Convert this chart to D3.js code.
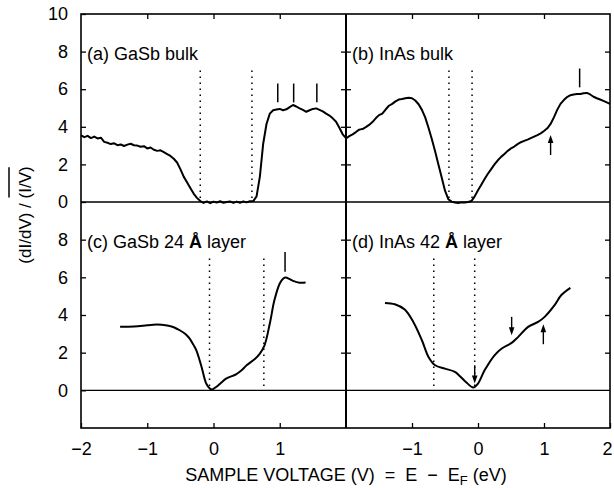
<!DOCTYPE html>
<html>
<head>
<meta charset="utf-8">
<script src="https://cdn.jsdelivr.net/npm/d3@7/dist/d3.min.js"></script>
<style>
  body { margin: 0; background: #fff; }
  svg text { font-family: "Liberation Sans", Arial, sans-serif; fill: #000; }
</style>
</head>
<body>
<div id="chart"></div>
<script>
// 电压 (V) 与 (dI/dV)/(I/V) 数据
const voltA = [-2.00,-1.95,-1.90,-1.85,-1.80,-1.75,-1.70,-1.65,-1.60,-1.55,-1.50,-1.45,-1.40,-1.35,-1.30,-1.25,-1.20,-1.15,-1.10,-1.05,
  -1.00,-0.95,-0.90,-0.85,-0.80,-0.75,-0.70,-0.65,-0.60,-0.55,-0.50,-0.45,-0.40,-0.35,-0.30,-0.25,-0.20,-0.15,-0.10,-0.05,
  0.00,0.05,0.10,0.15,0.20,0.25,0.30,0.35,0.40,0.45,0.50,0.55,0.60,0.65,0.70,0.75,0.80,0.85,0.90,0.95,
  1.00,1.05,1.10,1.15,1.20,1.25,1.30,1.35,1.40,1.45,1.50,1.55,1.60,1.65,1.70,1.75,1.80,1.85,1.90,1.95,2.00];
const valA = [3.55,3.45,3.52,3.40,3.48,3.38,3.42,3.20,3.15,3.08,3.12,3.02,3.06,2.98,3.05,3.10,3.02,3.00,2.94,2.97,
  2.85,2.90,2.78,2.72,2.75,2.65,2.55,2.45,2.30,2.10,1.75,1.35,1.05,0.75,0.45,0.22,0.05,-0.05,0.03,-0.06,
  0.02,-0.03,0.04,-0.04,0.00,0.03,-0.05,0.02,-0.04,0.03,-0.02,0.04,0.05,0.30,1.35,3.10,4.15,4.70,4.88,4.92,
  4.95,4.88,4.93,5.05,5.16,5.08,4.98,4.90,4.80,4.88,4.95,4.98,4.90,4.82,4.70,4.60,4.45,4.27,3.95,3.60,3.40];

const voltB = voltA;
const valB = [3.38,3.50,3.60,3.72,3.85,3.88,3.98,4.10,4.25,4.45,4.62,4.70,4.92,5.12,5.22,5.35,5.45,5.48,5.52,5.55,
  5.52,5.40,5.20,4.90,4.50,3.95,3.35,2.70,2.00,1.30,0.60,0.15,0.02,-0.03,-0.05,-0.02,-0.03,0.00,0.05,0.30,
  0.62,0.92,1.22,1.50,1.75,2.00,2.22,2.40,2.55,2.72,2.85,2.95,3.08,3.18,3.25,3.32,3.40,3.48,3.56,3.65,
  3.78,3.92,4.15,4.50,4.90,5.22,5.42,5.58,5.68,5.72,5.75,5.74,5.78,5.80,5.72,5.60,5.52,5.45,5.38,5.30,5.22];

const voltC = [-1.41,-1.20,-1.00,-0.86,-0.70,-0.60,-0.51,-0.42,-0.36,-0.30,-0.26,-0.18,-0.11,-0.05,-0.02,0.04,0.12,0.19,0.34,0.42,
  0.50,0.62,0.70,0.77,0.85,0.92,1.00,1.05,1.09,1.15,1.20,1.30,1.39];
const valC = [3.37,3.39,3.45,3.49,3.44,3.35,3.19,2.98,2.75,2.40,2.13,1.24,0.36,0.08,0.05,0.18,0.42,0.62,0.85,1.05,
  1.33,1.65,1.95,2.39,3.55,4.79,5.67,5.93,5.99,5.90,5.81,5.71,5.73];

const voltD = [-1.41,-1.26,-1.11,-0.98,-0.85,-0.75,-0.65,-0.50,-0.35,-0.20,-0.07,0.00,0.10,0.25,0.36,0.51,0.61,0.76,0.91,1.01,1.16,1.26,1.40];
const valD = [4.64,4.57,4.29,3.63,2.66,1.77,1.33,1.15,0.98,0.50,0.15,0.36,1.06,1.86,2.22,2.52,2.84,3.37,3.63,3.90,4.52,5.05,5.44];

// 虚线位置、竖线标记、箭头
const dottedA = [-0.20, 0.58];
const dottedB = [-0.44, -0.09];
const dottedC = [-0.06, 0.76];
const dottedD = [-0.67, -0.05];
const barsA = [0.97, 1.21, 1.56];
const barsB = [1.54];
const barsC = [1.08];
// [电压, 起点值, 终点值(箭头)]
const arrowsB = [[1.10, 2.50, 3.56]];
const arrowsD = [[0.51, 3.90, 2.93], [0.99, 2.45, 3.51], [-0.05, 1.33, 0.36]];

const labelA = "(a) GaSb bulk";
const labelB = "(b) InAs bulk";
const labelC = ["(c) GaSb 24 ", "Å", " layer"];
const labelD = ["(d) InAs 42 ", "Å", " layer"];

const yTicksTop = [0, 2, 4, 6, 8, 10];
const yTicksBottom = [0, 2, 4, 6, 8];
const xInnerTicks = [-1, 0, 1];
const xLabelsLeft = [-2, -1, 0, 1];
const xLabelsRight = [-1, 0, 1, 2];

const W = 614, H = 488;
const L = 81, M = 346, R = 610, T = 14, MID = 202, B = 428;
const FS = 18;

const svg = d3.select('#chart').append('svg')
  .attr('width', W).attr('height', H);

const xLeft = d3.scaleLinear().domain([-2, 2]).range([L, M]);
const xRight = d3.scaleLinear().domain([-2, 2]).range([M, R]);
const yTop = d3.scaleLinear().domain([0, 10]).range([MID, T]);
const yBot = d3.scaleLinear().domain([-2, 10]).range([B, MID]);
const fmt = d3.format('d');

function styleAxis(g, showText) {
  g.select('.domain').remove();
  g.selectAll('.tick line').attr('stroke', '#000').attr('stroke-width', 1.3);
  g.selectAll('.tick text').attr('font-size', FS).attr('font-family', '"Liberation Sans", Arial, sans-serif')
    .attr('fill', '#000').style('display', showText ? null : 'none');
}

// 左轴
svg.append('g').attr('transform', `translate(${L},0)`)
  .call(d3.axisLeft(yTop).tickValues(yTicksTop).tickFormat(fmt).tickSizeInner(-5).tickSizeOuter(0).tickPadding(13))
  .call(g => styleAxis(g, true));
svg.append('g').attr('transform', `translate(${L},0)`)
  .call(d3.axisLeft(yBot).tickValues(yTicksBottom).tickFormat(fmt).tickSizeInner(-5).tickSizeOuter(0).tickPadding(13))
  .call(g => styleAxis(g, true));

// 中间分隔线两侧刻度 + 右边框刻度
[yTop, yBot].forEach(ys => {
  const tv = [2, 4, 6, 8];
  svg.append('g').attr('transform', `translate(${M},0)`)
    .call(d3.axisLeft(ys).tickValues(tv).tickSize(5).tickFormat(''))
    .call(g => styleAxis(g, false));
  svg.append('g').attr('transform', `translate(${M},0)`)
    .call(d3.axisRight(ys).tickValues(tv).tickSize(5).tickFormat(''))
    .call(g => styleAxis(g, false));
  svg.append('g').attr('transform', `translate(${R},0)`)
    .call(d3.axisRight(ys).tickValues(tv).tickSize(-5).tickFormat(''))
    .call(g => styleAxis(g, false));
});

// 上、下边框刻度
[[xLeft, xLabelsLeft], [xRight, xLabelsRight]].forEach(([xs, labs]) => {
  svg.append('g').attr('transform', `translate(0,${T})`)
    .call(d3.axisTop(xs).tickValues(xInnerTicks).tickSize(-5).tickFormat(''))
    .call(g => styleAxis(g, false));
  svg.append('g').attr('transform', `translate(0,${B})`)
    .call(d3.axisBottom(xs).tickValues(labs).tickFormat(fmt).tickSizeInner(-5).tickSizeOuter(0).tickPadding(14))
    .call(g => styleAxis(g, true))
    .call(g => g.selectAll('.tick text').filter(d => d === 2).attr('dx', -3));
});

// 边框与分隔线
const frame = svg.append('g').attr('stroke', '#000').attr('fill', 'none');
frame.append('rect').attr('x', L).attr('y', T).attr('width', R - L).attr('height', B - T).attr('stroke-width', 1.6);
frame.append('line').attr('x1', M).attr('x2', M).attr('y1', T).attr('y2', B).attr('stroke-width', 2);
frame.append('line').attr('x1', L).attr('x2', R).attr('y1', yTop(0)).attr('y2', yTop(0)).attr('stroke-width', 1.4);
frame.append('line').attr('x1', L).attr('x2', R).attr('y1', yBot(0)).attr('y2', yBot(0)).attr('stroke-width', 1.4);

function drawPanel(xs, ys, volts, vals, curve, dotted, dotBottom, bars, barRange, arrows) {
  const g = svg.append('g');
  // 虚线
  g.selectAll('line.dot').data(dotted).enter().append('line')
    .attr('x1', d => xs(d)).attr('x2', d => xs(d))
    .attr('y1', ys(7.0)).attr('y2', ys(dotBottom))
    .attr('stroke', '#000').attr('stroke-width', 1.5).attr('stroke-dasharray', '1.6,4.4');
  // 曲线
  const pts = volts.map((v, i) => [v, vals[i]]);
  g.append('path').datum(pts)
    .attr('d', d3.line().x(d => xs(d[0])).y(d => ys(d[1])).curve(curve))
    .attr('fill', 'none').attr('stroke', '#000').attr('stroke-width', 2).attr('stroke-linejoin', 'round');
  // 竖线标记
  if (bars) {
    g.selectAll('line.bar').data(bars).enter().append('line')
      .attr('x1', d => xs(d)).attr('x2', d => xs(d))
      .attr('y1', ys(barRange[0])).attr('y2', ys(barRange[1]))
      .attr('stroke', '#000').attr('stroke-width', 1.5);
  }
  // 箭头
  if (arrows) {
    arrows.forEach(([v, y0, y1]) => {
      const x = xs(v), p0 = ys(y0), p1 = ys(y1);
      const dir = p1 > p0 ? 1 : -1;
      g.append('line').attr('x1', x).attr('x2', x).attr('y1', p0).attr('y2', p1 - dir * 6)
        .attr('stroke', '#000').attr('stroke-width', 1.4);
      g.append('path')
        .attr('d', `M${x},${p1} L${x - 2.8},${p1 - dir * 8} L${x + 2.8},${p1 - dir * 8} Z`)
        .attr('fill', '#000');
    });
  }
  return g;
}

drawPanel(xLeft, yTop, voltA, valA, d3.curveLinear, dottedA, 0, barsA, [5.3, 6.3], null);
drawPanel(xRight, yTop, voltB, valB, d3.curveLinear, dottedB, 0, barsB, [6.1, 7.1], arrowsB);
drawPanel(xLeft, yBot, voltC, valC, d3.curveCatmullRom.alpha(0.5), dottedC, 0.2, barsC, [6.3, 7.35], null);
drawPanel(xRight, yBot, voltD, valD, d3.curveCatmullRom.alpha(0.5), dottedD, 0.2, null, null, arrowsD);

// 面板标题
function panelLabel(x, y, parts) {
  const t = svg.append('text').attr('x', x).attr('y', y).attr('font-size', FS).style('white-space', 'pre');
  (Array.isArray(parts) ? parts : [parts]).forEach(p => {
    t.append('tspan').text(p).attr('font-weight', p === 'Å' ? 'bold' : null);
  });
}
panelLabel(87, 60, labelA);
panelLabel(352, 60, labelB);
panelLabel(87, 248, labelC);
panelLabel(352, 248, labelD);

// x 轴标题
const xt = svg.append('text').attr('x', 346).attr('y', 481).attr('font-size', FS)
  .attr('text-anchor', 'middle').style('white-space', 'pre');
xt.append('tspan').text('SAMPLE VOLTAGE (V)  =  E  −  E');
xt.append('tspan').text('F').attr('font-size', 13).attr('dy', 4);
xt.append('tspan').text(' (eV)').attr('dy', -4);

// y 轴标题，(I/V) 上方加横线
const yg = svg.append('g').attr('transform', 'translate(31,215) rotate(-90)');
const ytxt = yg.append('text').attr('x', 0).attr('y', 0).attr('font-size', 17)
  .attr('text-anchor', 'middle').style('white-space', 'pre')
  .text('(dI/dV) / (I/V)');
const node = ytxt.node();
const n = node.getNumberOfChars();
const s = node.getStartPositionOfChar(n - 5).x;
const e = node.getEndPositionOfChar(n - 1).x;
yg.append('line').attr('x1', s + 1).attr('x2', e - 1).attr('y1', -22).attr('y2', -22)
  .attr('stroke', '#000').attr('stroke-width', 1.5);
</script>
</body>
</html>
